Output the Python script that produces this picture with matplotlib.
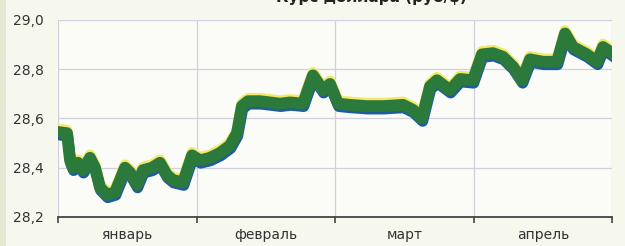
"""
Курс доллара, январь–апрель: толстая зелёная линия с тенью, как на скане.
"""
import matplotlib
matplotlib.use("Agg")
import matplotlib.pyplot as plt
from matplotlib.patches import Rectangle
from matplotlib.transforms import offset_copy

# положение по оси X в долях месяца (0 = начало января, 4 = конец апреля)
month_pos = [0.0, 0.065, 0.087, 0.108, 0.144, 0.18, 0.231, 0.267, 0.303, 0.354,
             0.412, 0.484, 0.52, 0.57, 0.614, 0.679, 0.736, 0.787, 0.83, 0.903,
             0.968, 1.025, 1.097, 1.17, 1.242, 1.292, 1.328, 1.372, 1.458, 1.531,
             1.603, 1.675, 1.769, 1.841, 1.913, 1.964, 2.022, 2.108, 2.231, 2.347,
             2.491, 2.563, 2.628, 2.686, 2.736, 2.83, 2.903, 2.996, 3.061, 3.141,
             3.213, 3.285, 3.35, 3.408, 3.502, 3.603, 3.661, 3.718, 3.819, 3.892,
             3.935, 4.0]
rate = [28.545, 28.54, 28.43, 28.40, 28.42, 28.39, 28.44, 28.40, 28.32, 28.29,
        28.30, 28.40, 28.38, 28.33, 28.39, 28.40, 28.42, 28.37, 28.35, 28.34,
        28.45, 28.43, 28.44, 28.46, 28.49, 28.54, 28.65, 28.67, 28.67, 28.665,
        28.66, 28.665, 28.66, 28.775, 28.715, 28.74, 28.66, 28.655, 28.65, 28.65,
        28.655, 28.635, 28.60, 28.73, 28.755, 28.715, 28.76, 28.755, 28.86, 28.865,
        28.85, 28.81, 28.755, 28.84, 28.83, 28.83, 28.945, 28.89, 28.86, 28.83,
        28.89, 28.865]
months = ["январь", "февраль", "март", "апрель"]
y_ticks = [28.2, 28.4, 28.6, 28.8, 29.0]
y_labels = ["28,2", "28,4", "28,6", "28,8", "29,0"]

fig = plt.figure(figsize=(6.25, 2.46), dpi=100, facecolor="#f6f8ee")
ax = fig.add_axes([0.0928, 0.118, 0.8864, 0.801])
ax.set_facecolor("#fbfcf8")

# полоска слева, как на скане
fig.patches.append(Rectangle((0, 0), 6 / 625, 1, transform=fig.transFigure,
                             facecolor="#e3e9d2", edgecolor="none"))

# жёлтый ореол сверху, синяя тень снизу, зелёная линия поверх
ax.plot(month_pos, rate, color="#f2e86a", lw=8, solid_joinstyle="round",
        transform=offset_copy(ax.transData, fig=fig, x=0, y=2, units="points"))
ax.plot(month_pos, rate, color="#1f5c9e", lw=8, solid_joinstyle="round",
        transform=offset_copy(ax.transData, fig=fig, x=0.5, y=-2, units="points"))
ax.plot(month_pos, rate, color="#2b7a3b", lw=8.5, solid_joinstyle="round")

ax.set_xlim(0, 4)
ax.set_ylim(28.2, 29.0)
ax.set_yticks(y_ticks)
ax.set_yticklabels(y_labels)
ax.set_xticks([0, 1, 2, 3, 4])
ax.set_xticklabels([])
ax.set_xticks([0.5, 1.5, 2.5, 3.5], minor=True)
ax.set_xticklabels(months, minor=True)
ax.tick_params(axis="x", which="major", direction="out", length=4, width=1.2,
               color="#444444")
ax.tick_params(axis="x", which="minor", length=0, pad=8, labelsize=10,
               labelcolor="#333333")
ax.tick_params(axis="y", length=0, pad=10, labelsize=10, labelcolor="#333333")

ax.grid(True, which="major", color="#cfd2dc", lw=0.9)
ax.set_axisbelow(True)
for side in ["top", "right", "left"]:
    ax.spines[side].set_visible(False)
ax.spines["bottom"].set_color("#444444")
ax.spines["bottom"].set_linewidth(1.3)

# заголовок почти целиком обрезан сверху, как на скане
fig.text(0.747, 0.992, "Курс доллара (руб/$)", ha="right", va="baseline",
         fontsize=11, fontweight="bold", color="#222222")

fig.savefig("out.png", dpi=100, facecolor=fig.get_facecolor())
